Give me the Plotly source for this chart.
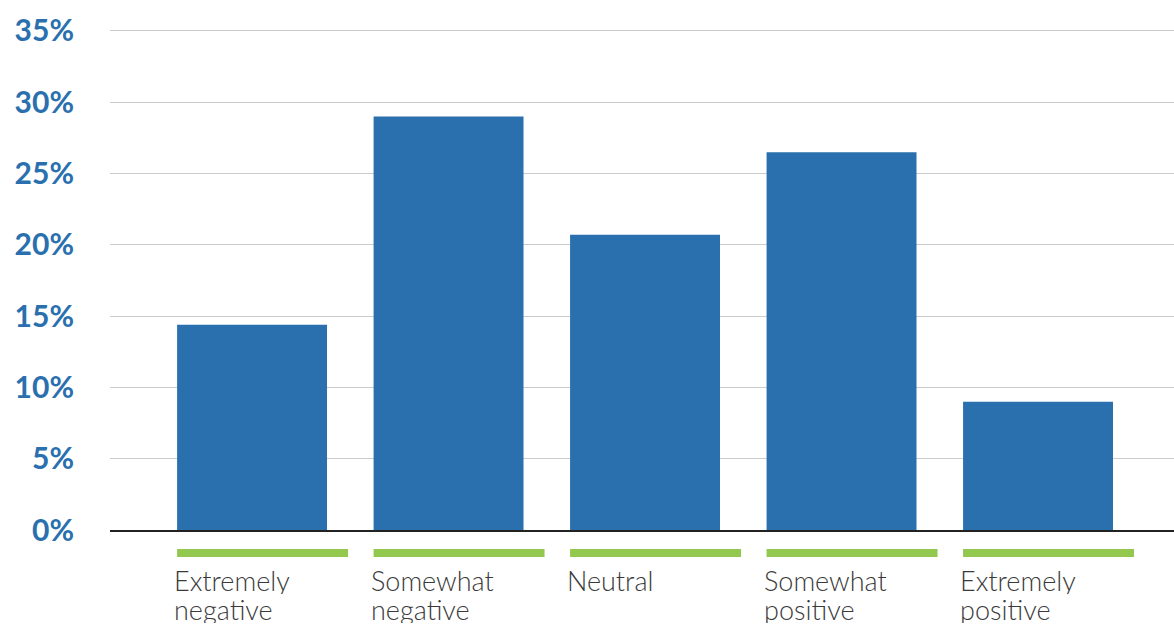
import plotly.graph_objects as go

categories = ["Extremely negative", "Somewhat negative", "Neutral", "Somewhat positive", "Extremely positive"]
label_line1 = ["Extremely", "Somewhat", "Neutral", "Somewhat", "Extremely"]
label_line2 = ["negative", "negative", "", "positive", "positive"]
values = [14.4, 29.0, 20.7, 26.5, 9.0]
tick_vals = [0, 5, 10, 15, 20, 25, 30, 35]
tick_text = ["0%", "5%", "10%", "15%", "20%", "25%", "30%", "35%"]

BLUE = "#2a70ae"
GREEN = "#92c84e"
BAR_W = 0.763
GREEN_W = 0.870

fig = go.Figure()
fig.add_trace(go.Bar(
    x=list(range(len(categories))),
    y=values,
    width=BAR_W,
    marker=dict(color=BLUE, line=dict(width=0)),
    hovertext=categories,
))

# plot area: y from 27 to 530 px (503 px tall)
PH = 503.0
shapes = []
annotations = []
lab_font = dict(family="Lato", size=27, color="#3a3a3a", weight=300)
for i in range(len(categories)):
    x0 = i - BAR_W / 2
    shapes.append(dict(type="rect", xref="x", yref="paper",
                       x0=x0, x1=x0 + GREEN_W, y0=-27 / PH, y1=-19 / PH,
                       fillcolor=GREEN, line=dict(width=0), layer="above"))
    for text, dy in ((label_line1[i], 35), (label_line2[i], 64)):
        if text:
            annotations.append(dict(xref="x", yref="paper", x=x0 - 0.02, y=-dy / PH,
                                    xanchor="left", yanchor="top", showarrow=False,
                                    height=28, borderpad=0, valign="middle",
                                    text=text, align="left", font=lab_font))

fig.update_layout(
    width=1174, height=626,
    margin=dict(l=110, r=0, t=27, b=96),
    paper_bgcolor="white", plot_bgcolor="white",
    showlegend=False,
    shapes=shapes,
    annotations=annotations,
    xaxis=dict(range=[-0.723, 4.692], showticklabels=False, showgrid=False,
               zeroline=False, showline=True, linecolor="#222222", linewidth=2,
               ticks=""),
    yaxis=dict(range=[0, 35.28], tickvals=tick_vals, ticktext=tick_text,
               showgrid=True, gridcolor="#cccccc", gridwidth=1, zeroline=False,
               showline=False, ticks="", ticklabelstandoff=35,
               tickfont=dict(family="Lato", size=30, color=BLUE, weight="bold")),
)

fig.write_html("out.html", config={"displayModeBar": False},
               post_script="document.body.style.margin='0px';document.body.style.overflow='hidden';")
